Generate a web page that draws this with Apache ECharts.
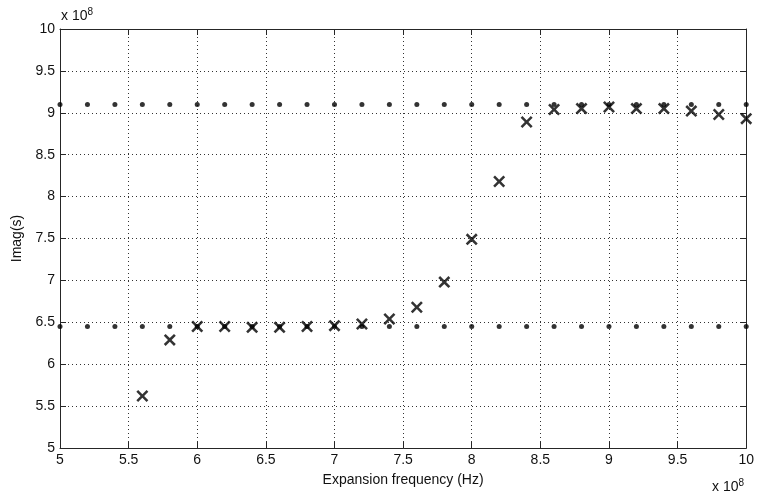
<!DOCTYPE html>
<html>
<head>
<meta charset="utf-8">
<script src="https://cdn.jsdelivr.net/npm/echarts@6/dist/echarts.min.js"></script>
<style>
  html, body { margin: 0; padding: 0; background: #fff; }
  #chart { width: 757px; height: 497px; }
</style>
</head>
<body>
<div id="chart"></div>
<script>
// Frequencies (x 10^8 Hz) of the reference pole levels
const dotFreq = [5.0, 5.2, 5.4, 5.6, 5.8, 6.0, 6.2, 6.4, 6.6, 6.8, 7.0, 7.2, 7.4,
                 7.6, 7.8, 8.0, 8.2, 8.4, 8.6, 8.8, 9.0, 9.2, 9.4, 9.6, 9.8, 10.0];
const upperLevel = [9.1, 9.1, 9.1, 9.1, 9.1, 9.1, 9.1, 9.1, 9.1, 9.1, 9.1, 9.1, 9.1,
                    9.1, 9.1, 9.1, 9.1, 9.1, 9.1, 9.1, 9.1, 9.1, 9.1, 9.1, 9.1, 9.1];
const lowerLevel = [6.45, 6.45, 6.45, 6.45, 6.45, 6.45, 6.45, 6.45, 6.45, 6.45, 6.45, 6.45, 6.45,
                    6.45, 6.45, 6.45, 6.45, 6.45, 6.45, 6.45, 6.45, 6.45, 6.45, 6.45, 6.45, 6.45];

// Expansion frequency vs. imaginary part of the estimated pole (x 10^8)
const expFreq = [5.6, 5.8, 6.0, 6.2, 6.4, 6.6, 6.8, 7.0, 7.2, 7.4, 7.6, 7.8,
                 8.0, 8.2, 8.4, 8.6, 8.8, 9.0, 9.2, 9.4, 9.6, 9.8, 10.0];
const imagS = [5.62, 6.29, 6.45, 6.45, 6.44, 6.44, 6.45, 6.46, 6.48, 6.54, 6.68, 6.98,
               7.49, 8.18, 8.89, 9.04, 9.05, 9.07, 9.05, 9.05, 9.02, 8.98, 8.93];

const xTicks = [5, 5.5, 6, 6.5, 7, 7.5, 8, 8.5, 9, 9.5, 10];
const yTicks = [5, 5.5, 6, 6.5, 7, 7.5, 8, 8.5, 9, 9.5, 10];

const FONT = 'Liberation Sans, Arial, sans-serif';
const FS = 14;
const TEXT_COLOR = '#111';
const AXIS_COLOR = '#262626';
const pair = (xs, ys) => xs.map((x, i) => [x, ys[i]]);
// filled "x" marker
const crossPath = 'path://M0,1.5L1.5,0L5,3.5L8.5,0L10,1.5L6.5,5L10,8.5L8.5,10L5,6.5L1.5,10L0,8.5L3.5,5Z';

const baseAxis = {
  type: 'value',
  min: 5, max: 10, interval: 0.5,
  axisLine: { show: true, onZero: false, lineStyle: { color: AXIS_COLOR, width: 1 } },
  axisTick: { show: true, inside: true, length: 6, lineStyle: { color: AXIS_COLOR } },
  splitLine: { show: false },
  axisLabel: { show: false }
};

const chart = echarts.init(document.getElementById('chart'), null, { renderer: 'canvas' });
chart.setOption({
  animation: false,
  backgroundColor: '#fff',
  grid: { left: 60, right: 9, top: 29, bottom: 49, containLabel: false },
  xAxis: [
    Object.assign({}, baseAxis, {
      position: 'bottom',
      name: 'Expansion frequency (Hz)',
      nameLocation: 'middle',
      nameGap: 25,
      nameTextStyle: { fontFamily: FONT, fontSize: FS, color: TEXT_COLOR },
      splitLine: { show: true, lineStyle: { color: '#333', type: [1, 3], width: 1 } },
      axisLabel: {
        show: true, margin: 5, fontFamily: FONT, fontSize: FS, color: TEXT_COLOR,
        customValues: xTicks, formatter: v => String(v)
      }
    }),
    Object.assign({}, baseAxis, { position: 'top' })
  ],
  yAxis: [
    Object.assign({}, baseAxis, {
      position: 'left',
      name: 'Imag(s)',
      nameLocation: 'middle',
      nameGap: 31,
      nameTextStyle: { fontFamily: FONT, fontSize: FS, color: TEXT_COLOR },
      splitLine: { show: true, lineStyle: { color: '#333', type: [1, 3], width: 1 } },
      axisLabel: {
        show: true, margin: 5, fontFamily: FONT, fontSize: FS, color: TEXT_COLOR,
        customValues: yTicks, formatter: v => String(v)
      }
    }),
    Object.assign({}, baseAxis, { position: 'right' })
  ],
  series: [
    {
      type: 'scatter', xAxisIndex: 0, yAxisIndex: 0,
      data: pair(dotFreq, upperLevel),
      symbol: 'circle', symbolSize: 5,
      itemStyle: { color: '#000' }, silent: true
    },
    {
      type: 'scatter', xAxisIndex: 0, yAxisIndex: 0,
      data: pair(dotFreq, lowerLevel),
      symbol: 'circle', symbolSize: 5,
      itemStyle: { color: '#000' }, silent: true
    },
    {
      type: 'scatter', xAxisIndex: 0, yAxisIndex: 0,
      data: pair(expFreq, imagS),
      symbol: crossPath, symbolSize: 12,
      itemStyle: { color: '#000' }, silent: true
    }
  ],
  graphic: [
    {
      type: 'text', left: 61, top: 7,
      style: {
        text: 'x 10{s|8}', fontFamily: FONT, fontSize: FS, fill: TEXT_COLOR,
        rich: { s: { fontSize: 10, fontFamily: FONT, fill: TEXT_COLOR, verticalAlign: 'top', padding: [0, 0, 8, 0] } }
      }
    },
    {
      type: 'text', left: 712, top: 478,
      style: {
        text: 'x 10{s|8}', fontFamily: FONT, fontSize: FS, fill: TEXT_COLOR,
        rich: { s: { fontSize: 10, fontFamily: FONT, fill: TEXT_COLOR, verticalAlign: 'top', padding: [0, 0, 8, 0] } }
      }
    }
  ]
});
</script>
</body>
</html>
